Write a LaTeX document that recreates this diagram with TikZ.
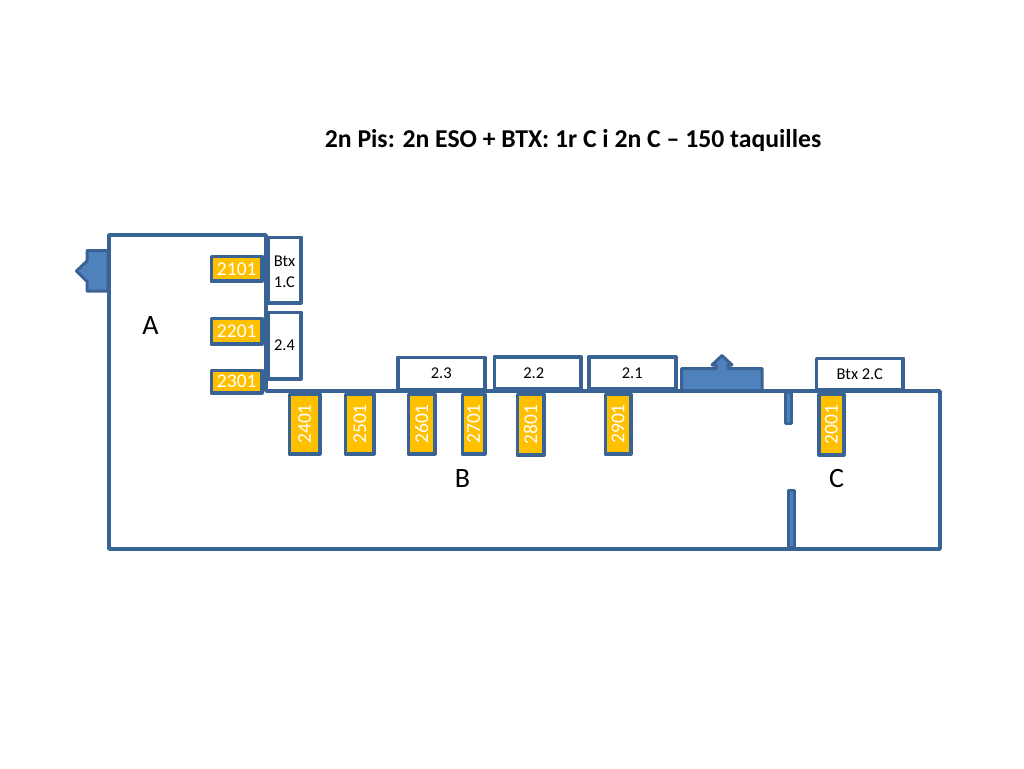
\documentclass[tikz,border=0pt]{standalone}
\usepackage{fontspec}
\setmainfont{Carlito}
\usetikzlibrary{calc}
\definecolor{edgeblue}{HTML}{3A6395}
\definecolor{fillblue}{HTML}{4F81BD}
\definecolor{lockeryellow}{HTML}{FFC000}
\newcommand{\fsz}[1]{\fontsize{#1pt}{#1pt}\selectfont}
\tikzset{
  wall/.style={draw=edgeblue,line width=3.6pt,line join=round},
  plainbox/.style={wall,fill=white,inner sep=0pt,align=center,text=black,font=\fsz{16.5}},
  lockerbox/.style={wall,fill=lockeryellow,inner sep=0pt,text=white,font=\fsz{19.5}},
  solidbox/.style={draw=edgeblue,line width=3pt,line join=round,fill=fillblue},
  zonelabel/.style={font=\fsz{28},text=black,inner sep=0pt},
  titlelabel/.style={font=\bfseries\fsz{25.7},text=black,inner sep=0pt}
}
% #1 name, #2 x0, #3 y0, #4 x1, #5 y1, #6 style, #7 text
\newcommand{\boxat}[7]{%
  \path let \n1={#4-#2-3.6}, \n2={#5-#3-3.6} in
    node[#6,minimum width=\n1 pt,minimum height=\n2 pt] (#1) at ({(#2+#4)/2},{(#3+#5)/2}) {#7};}
\newcommand{\vlocker}[7]{%
  \path let \n1={#4-#2-3.6}, \n2={#5-#3-3.6} in
    node[#6,minimum width=\n1 pt,minimum height=\n2 pt] (#1) at ({(#2+#4)/2},{(#3+#5)/2}) {};
  \node[text=white,font=\fsz{19.5},rotate=90,inner sep=0pt] (#1t) at (#1.center) {#7};}
\begin{document}
\begin{tikzpicture}[x=1pt,y=-1pt]
\useasboundingbox (0,0) rectangle (1024,768);
\fill[white] (0,0) rectangle (1024,768);
\node[titlelabel] (title) at (573,141) {2n Pis: 2n ESO + BTX: 1r C i 2n C – 150 taquilles};
% solid stair blocks with arrows
\draw[solidbox] (76.5,271) -- (87,261) -- (87,250.5) -- (108,250.5) -- (108,291) -- (87,291) -- (87,281.5) -- cycle;
\draw[solidbox] (722,355.5) -- (732,365) -- (728,365) -- (728,368.5) -- (762,368.5) -- (762,391) -- (681.5,391) -- (681.5,368.5) -- (716,368.5) -- (716,365) -- (712,365) -- cycle;
% building outline
\draw[wall] (109,235) -- (266,235) -- (266,391) -- (940,391) -- (940,549) -- (109,549) -- cycle;
% partitions
\boxat{wallupper}{785}{391}{792}{425}{solidbox}{}
\boxat{walllower}{788}{488.5}{795}{549}{solidbox}{}
% rooms
\boxat{btxa}{266}{235.5}{303}{304.5}{plainbox}{\rule{0pt}{15pt}Btx\\[4.5pt]1.C}
\boxat{roomd}{266}{310.5}{303}{380.5}{plainbox}{2.4}
\boxat{roomc}{396}{355.5}{486.5}{391.5}{plainbox}{2.3}
\boxat{roomb}{492.5}{355}{583}{390.5}{plainbox}{2.2\hspace{8pt}}
\boxat{rooma}{587}{355}{677.5}{390.5}{plainbox}{2.1}
\boxat{btxc}{814.5}{356.5}{905}{392}{plainbox}{Btx 2.C}
% horizontal lockers
\boxat{lka}{209.5}{254.5}{264}{283}{lockerbox}{2101}
\boxat{lkb}{209.5}{316.5}{264}{346}{lockerbox}{2201}
\boxat{lkc}{209.5}{368.5}{264}{394.5}{lockerbox}{2301}
% vertical lockers
\vlocker{lkd}{287.5}{392.5}{321.5}{455.5}{lockerbox}{2401}
\vlocker{lke}{343.5}{392.5}{376}{455.5}{lockerbox}{2501}
\vlocker{lkf}{406.5}{392.5}{436.5}{455.5}{lockerbox}{2601}
\vlocker{lkg}{460.5}{392.5}{486.5}{455.5}{lockerbox}{2701}
\vlocker{lkh}{515.5}{392.5}{545.5}{457}{lockerbox}{2801}
\vlocker{lki}{603.5}{392.5}{632.5}{455.5}{lockerbox}{2901}
\vlocker{lkj}{817}{392.5}{845.5}{456.5}{lockerbox}{2001}
% zones
\node[zonelabel] (zonea) at (150.5,326) {A};
\node[zonelabel] (zoneb) at (462.5,479) {B};
\node[zonelabel] (zonec) at (836.5,479) {C};
\end{tikzpicture}
\end{document}
